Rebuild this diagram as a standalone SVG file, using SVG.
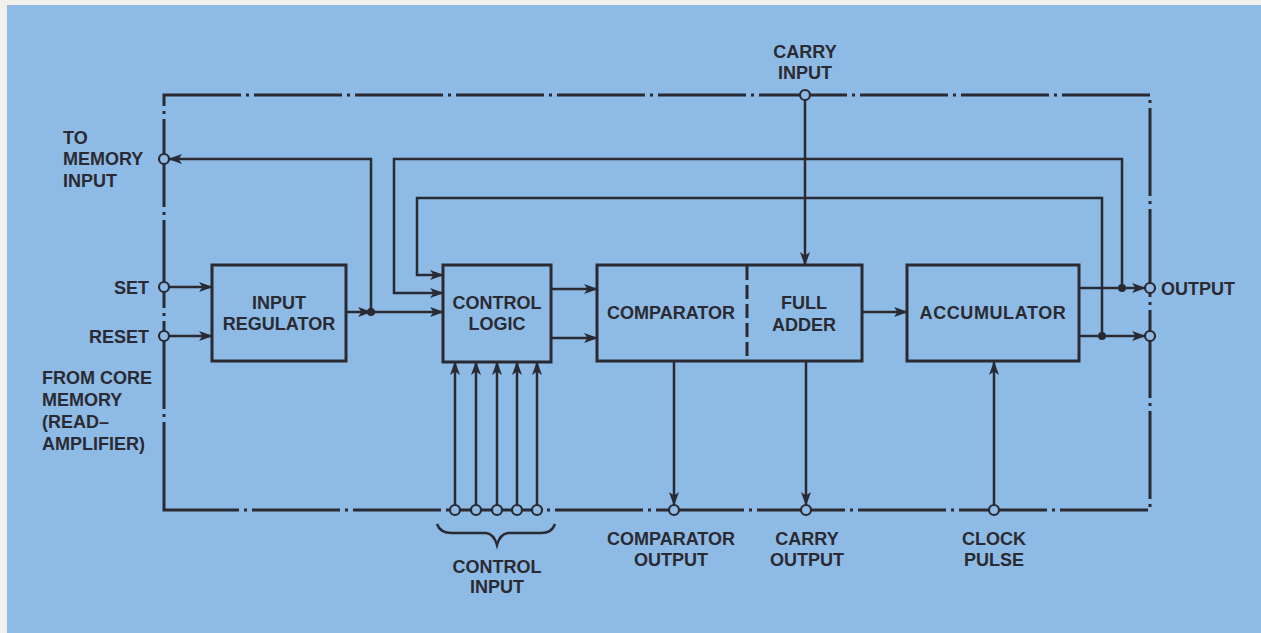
<svg xmlns="http://www.w3.org/2000/svg" width="1261" height="633" viewBox="0 0 1261 633">
<defs>
<style>
.t{font-family:"Liberation Sans",Arial,sans-serif;font-weight:bold;font-size:18px;fill:#2a2a32}
.m{text-anchor:middle}
.e{text-anchor:end}
.box{fill:none;stroke:#2a2a32;stroke-width:3}
.ln{fill:none;stroke:#2a2a32;stroke-width:2.5}
.ar{marker-end:url(#ah)}
.bd{fill:none;stroke:#2a2a32;stroke-width:3;stroke-dasharray:88 5 3 5}
.pt{fill:#8ebbe5;stroke:#2a2a32;stroke-width:2.2}
.dot{fill:#2a2a32}
</style>
<marker id="ah" viewBox="0 0 14 10" refX="13" refY="5" markerWidth="14" markerHeight="10" markerUnits="userSpaceOnUse" orient="auto">
<path d="M0,0 L14,5 L0,10 L3.5,5 Z" fill="#2a2a32"/>
</marker>
</defs>
<rect x="0" y="0" width="1261" height="633" fill="#f1f0ea"/>
<rect x="7" y="5" width="1254" height="628" fill="#8ebbe5"/>

<g id="border">
<path class="bd" d="M164,510 V95 H1150 V510 Z"/>
</g>

<g id="connectors">
<path class="ln ar" d="M169,287 H212"/>
<path class="ln ar" d="M169,336 H212"/>
<path class="ln ar" d="M346,312 H371"/>
<path class="ln ar" d="M371,312 H443"/>
<path class="ln ar" d="M371,312 V159 H169"/>
<path class="ln ar" d="M1122,288 V159 H394 V293 H443"/>
<path class="ln ar" d="M1102,336 V198 H417 V275 H443"/>
<path class="ln ar" d="M552,289 H597"/>
<path class="ln ar" d="M552,338 H597"/>
<path class="ln ar" d="M862,312 H907"/>
<path class="ln ar" d="M1079,288 H1145"/>
<path class="ln ar" d="M1079,336 H1145"/>
<path class="ln ar" d="M805,100 V265"/>
<path class="ln ar" d="M455,505 V362"/>
<path class="ln ar" d="M476,505 V362"/>
<path class="ln ar" d="M497,505 V362"/>
<path class="ln ar" d="M517,505 V362"/>
<path class="ln ar" d="M537,505 V362"/>
<path class="ln ar" d="M674,361 V505"/>
<path class="ln ar" d="M806,361 V505"/>
<path class="ln ar" d="M994,505 V362"/>
<path class="ln" stroke-width="3.2" d="M437,524 Q440,533 452,533 H486 Q494,534 497,545 Q500,534 508,533 H541 Q552,533 555,524"/>
<circle class="dot" cx="371" cy="312" r="4"/>
<circle class="dot" cx="1122" cy="288" r="4"/>
<circle class="dot" cx="1102" cy="336" r="4"/>
</g>

<g id="terminals">
<circle class="pt" cx="164" cy="159" r="5"/>
<circle class="pt" cx="164" cy="287" r="5"/>
<circle class="pt" cx="164" cy="336" r="5"/>
<circle class="pt" cx="805" cy="95" r="5"/>
<circle class="pt" cx="1150" cy="288" r="5"/>
<circle class="pt" cx="1150" cy="336" r="5"/>
<circle class="pt" cx="455" cy="510" r="5"/>
<circle class="pt" cx="476" cy="510" r="5"/>
<circle class="pt" cx="497" cy="510" r="5"/>
<circle class="pt" cx="517" cy="510" r="5"/>
<circle class="pt" cx="537" cy="510" r="5"/>
<circle class="pt" cx="674" cy="510" r="5"/>
<circle class="pt" cx="806" cy="510" r="5"/>
<circle class="pt" cx="994" cy="510" r="5"/>
</g>

<g id="input-regulator">
<rect class="box" x="212" y="265" width="134" height="96"/>
<text class="t m" x="279" y="309">INPUT</text>
<text class="t m" x="279" y="330">REGULATOR</text>
</g>

<g id="control-logic">
<rect class="box" x="443" y="265" width="108" height="97"/>
<text class="t m" x="497" y="309">CONTROL</text>
<text class="t m" x="497" y="330">LOGIC</text>
</g>

<g id="comparator-full-adder">
<rect class="box" x="597" y="265" width="265" height="96"/>
<path d="M747,266 V360" fill="none" stroke="#2a2a32" stroke-width="3" stroke-dasharray="14 5"/>
<text class="t m" x="671" y="319">COMPARATOR</text>
<text class="t m" x="804" y="309">FULL</text>
<text class="t m" x="804" y="331">ADDER</text>
</g>

<g id="accumulator">
<rect class="box" x="907" y="265" width="172" height="96"/>
<text class="t m" x="993" y="319" letter-spacing="0.6">ACCUMULATOR</text>
</g>

<g id="labels">
<text class="t m" x="805" y="58">CARRY</text>
<text class="t m" x="805" y="79">INPUT</text>
<text class="t" x="63" y="144">TO</text>
<text class="t" x="63" y="165">MEMORY</text>
<text class="t" x="63" y="187">INPUT</text>
<text class="t e" x="149" y="294">SET</text>
<text class="t e" x="149" y="343">RESET</text>
<text class="t" x="42" y="384">FROM CORE</text>
<text class="t" x="42" y="406">MEMORY</text>
<text class="t" x="42" y="428">(READ–</text>
<text class="t" x="42" y="450">AMPLIFIER)</text>
<text class="t" x="1161" y="295">OUTPUT</text>
<text class="t m" x="497" y="573">CONTROL</text>
<text class="t m" x="497" y="593">INPUT</text>
<text class="t m" x="671" y="545">COMPARATOR</text>
<text class="t m" x="671" y="566">OUTPUT</text>
<text class="t m" x="807" y="545">CARRY</text>
<text class="t m" x="807" y="566">OUTPUT</text>
<text class="t m" x="994" y="545">CLOCK</text>
<text class="t m" x="994" y="566">PULSE</text>
</g>
</svg>
